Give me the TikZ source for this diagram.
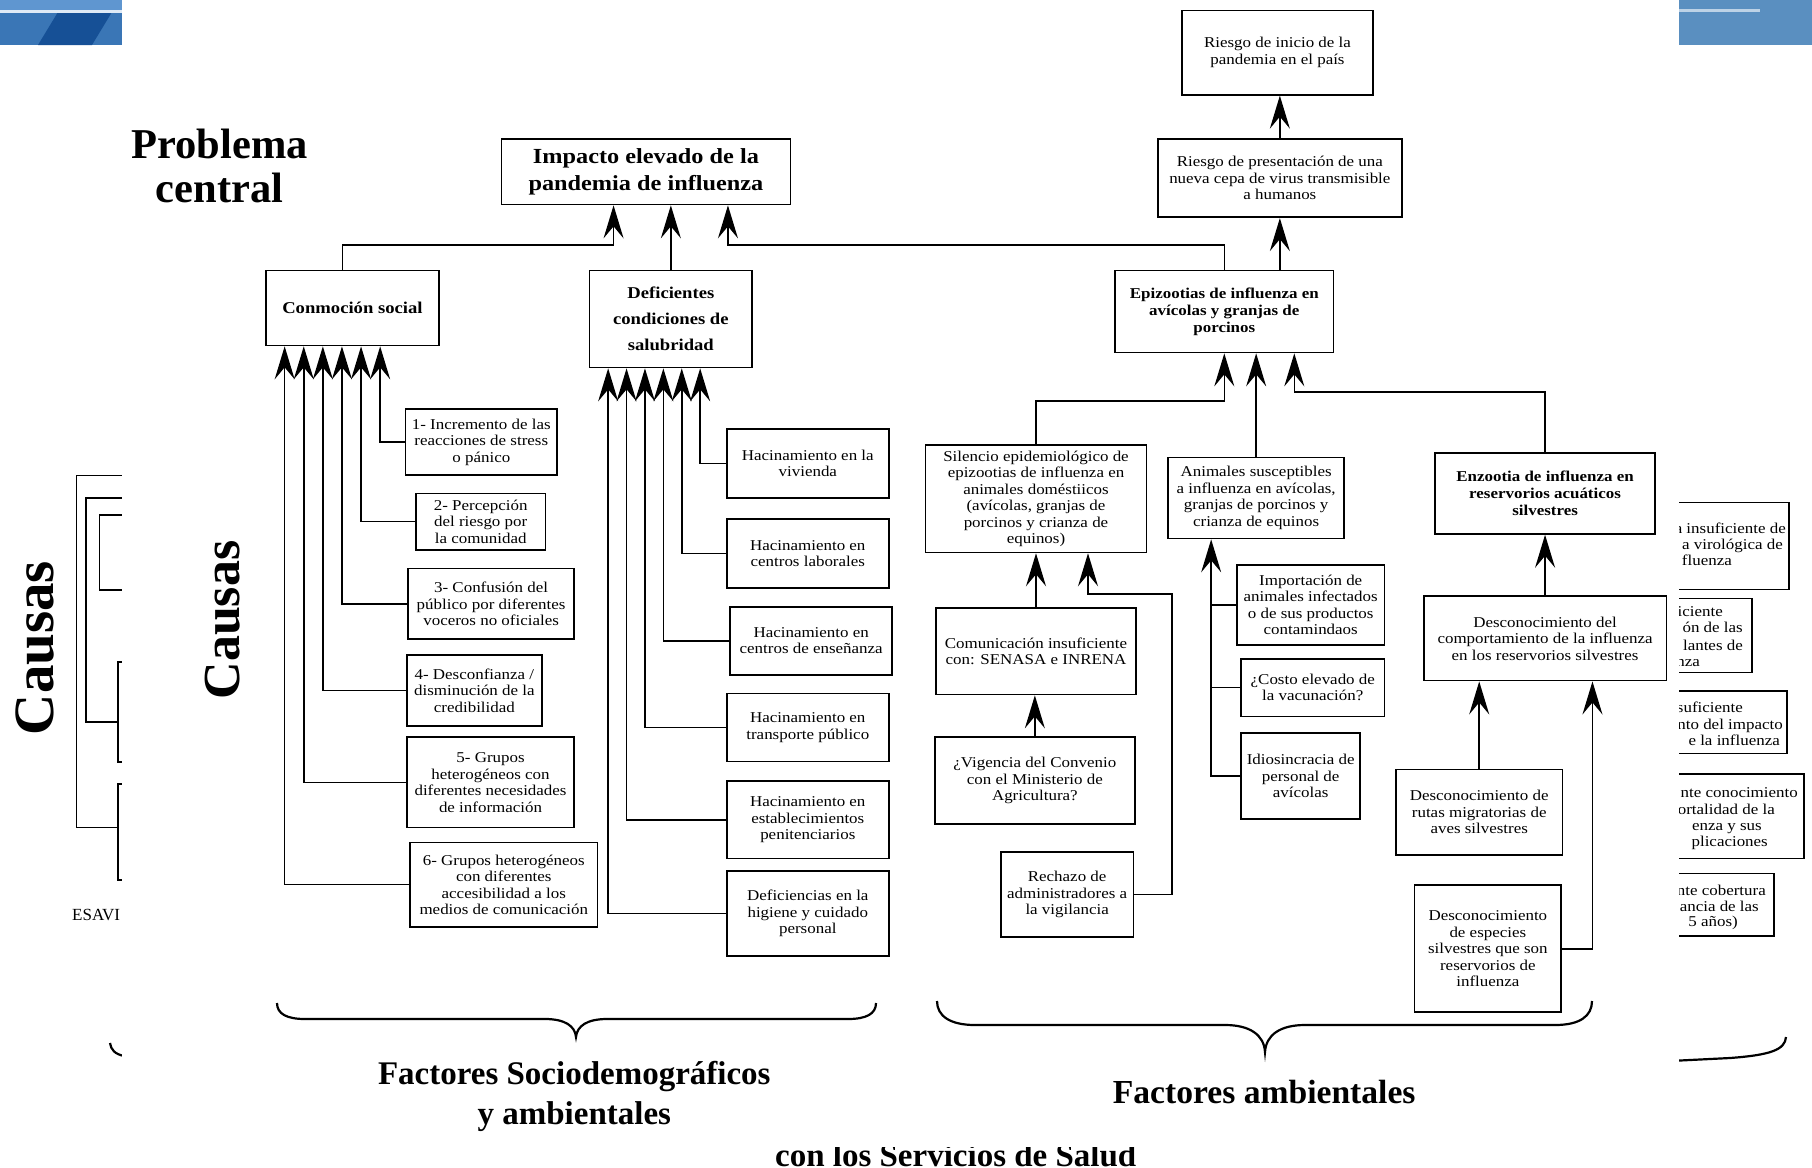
\documentclass[tikz,border=0pt]{standalone}
\usepackage{fontspec}
\setmainfont{Liberation Serif}
\newfontfamily\bxf[FakeStretch=1.13]{Liberation Serif}
\usetikzlibrary{arrows.meta,calc}
\definecolor{blA}{RGB}{58,118,182}
\definecolor{blD}{RGB}{22,80,150}
\definecolor{blL}{RGB}{95,150,208}
\definecolor{blR}{RGB}{90,143,192}
\tikzset{
  bx/.style={draw, line width=1.7pt, align=center, inner sep=1pt, font=\bxf\fontsize{15}{16.5}\selectfont},
  bxb/.style={bx, font=\bxf\bfseries\fontsize{15}{17}\selectfont},
  hd/.style={bx, font=\bxf\bfseries\fontsize{16.5}{26}\selectfont},
  ttl/.style={bx, font=\bxf\bfseries\fontsize{21.5}{27}\selectfont},
  ln/.style={line width=1.5pt},
  arr/.style={ln, -{Stealth[length=33pt,width=20pt,inset=12pt]}},
  bg/.style={line width=1.4pt},
  brace/.style={line width=2.2pt},
  ptxt/.style={anchor=base east, inner sep=0pt, font=\bxf\fontsize{15}{16.5}\selectfont},
}
\newcommand{\bxn}[7][bx]{\node[#1, minimum width={(#4)-(#2)}, minimum height={(#5)-(#3)}] (#6) at ({((#2)+(#4))/2},{((#3)+(#5))/2}) {#7};}
\begin{document}
\begin{tikzpicture}[x=1pt,y=-1pt]
\useasboundingbox (0,0) rectangle (1812,1167);
% ---------- background slide fragments ----------
\fill[blA] (0,0) rectangle (122,45);
\fill[blD] (38,45) -- (92,45) -- (112,12) -- (58,12) -- cycle;
\fill[blL] (0,0) rectangle (122,10);
\fill[white!80!blL] (0,10) rectangle (122,13);
\fill[blR] (1679,0) rectangle (1812,45);
\fill[white!60!blR] (1679,9) rectangle (1760,12);
\node[rotate=90, font=\bfseries\fontsize{57}{57}\selectfont] (causasbg) at (35,648) {Causas};
\draw[bg] (122,475.7) -| (76.7,827.7) -- (118,827.7);
\draw[bg] (122,498) -| (86,722) -- (118,722);
\draw[bg] (122,515) -| (99.3,590) -- (122,590);
\draw[bg] (122,662) -| (118,762) -- (122,762);
\draw[bg] (122,784) -| (118,880) -- (122,880);
\node[anchor=base west, inner sep=0pt, font=\fontsize{17}{17}\selectfont] (esav) at (72,920) {ESAVI};
\draw[brace] (110,1043) .. controls (111,1050) and (115,1054) .. (124,1056);
\draw[brace] (1670,1061) -- (1730,1058) .. controls (1770,1055) and (1785,1050) .. (1786,1037);
\node[anchor=base, font=\bfseries\fontsize{33}{40}\selectfont] (css) at (955.7,1166) {con los Servicios de Salud};
% right partial boxes
\draw[bg] (1660,502.7) rectangle (1789,589.4);
\draw[bg] (1660,598.6) rectangle (1752,672.6);
\draw[bg] (1660,691) rectangle (1787,753.4);
\draw[bg] (1660,774) rectangle (1804,858.6);
\draw[bg] (1660,873.6) rectangle (1774,936);
\node[ptxt] (r1a) at (1786,533) {a insuficiente de};
\node[ptxt] (r1b) at (1783,549) {a virológica de};
\node[ptxt] (r1c) at (1732,565.5) {fluenza};
\node[ptxt] (r2a) at (1723,616) {iciente};
\node[ptxt] (r2b) at (1743,632.5) {ón de las};
\node[ptxt] (r2c) at (1743,650) {lantes de};
\node[ptxt] (r2d) at (1700,666) {enza};
\node[ptxt] (r3a) at (1743,712) {suficiente};
\node[ptxt] (r3b) at (1783,729.5) {nto del impacto};
\node[ptxt] (r3c) at (1780,745.5) {e la influenza};
\node[ptxt] (r4a) at (1798,797.5) {nte conocimiento};
\node[ptxt] (r4b) at (1775,814) {ortalidad de la};
\node[ptxt] (r4c) at (1762,830) {enza y sus};
\node[ptxt] (r4d) at (1768,846) {plicaciones};
\node[ptxt] (r5a) at (1766,895) {nte cobertura};
\node[ptxt] (r5b) at (1759,911) {ancia de las};
\node[ptxt] (r5c) at (1738,926) {5 años)};
% ---------- overlay ----------
\fill[white] (122,0) rectangle (1679,1147);
% ---------- titles ----------
\node[font=\bfseries\fontsize{42.5}{44}\selectfont, align=center] (prob) at (219.6,166.4) {Problema\\central};
\node[rotate=90, font=\bfseries\fontsize{52}{52}\selectfont] (causas) at (223,620) {Causas};
% ---------- boxes ----------
\bxn[ttl]{501.5}{138.7}{790.4}{204.5}{imp}{Impacto elevado de la\\pandemia de influenza}
\bxn[hd]{265.8}{270.4}{439.1}{345.5}{cs}{Conmoción social}
\bxn[hd]{589.4}{270.4}{752.3}{367.5}{def}{Deficientes\\condiciones de\\salubridad}
\bxn{1182.2}{10.4}{1372.8}{94.8}{ri}{Riesgo de inicio de la\\pandemia en el país}
\bxn{1157.9}{138.7}{1401.8}{217.3}{rp}{Riesgo de presentación de una\\nueva cepa de virus transmisible\\a humanos}
\bxn[bxb]{1115}{270.4}{1333.6}{352.5}{epz}{Epizootias de influenza en\\avícolas y granjas de\\porcinos}
\bxn{925.6}{444.9}{1146.4}{552.4}{sil}{Silencio epidemiológico de\\epizootias de influenza en\\animales doméstiicos\\(avícolas, granjas de\\porcinos y crianza de\\equinos)}
\bxn{1168.3}{457.6}{1344}{538.5}{ani}{Animales susceptibles\\a influenza en avícolas,\\granjas de porcinos y\\crianza de equinos}
\bxn[bxb]{1435.3}{453}{1654.8}{533.9}{enz}{Enzootia de influenza en\\reservorios acuáticos\\silvestres}
\bxn{936}{607.8}{1136}{694.5}{com}{Comunicación insuficiente\\con: SENASA e INRENA}
\bxn{934.9}{737.3}{1134.8}{824}{vig}{¿Vigencia del Convenio\\con el Ministerio de\\Agricultura?}
\bxn{1000.7}{851.7}{1133.6}{937.2}{rech}{Rechazo de\\administradores a\\la vigilancia}
\bxn{1237}{565}{1384.4}{644.8}{impo}{Importación de\\animales infectados\\o de sus productos\\contamindaos}
\bxn{1241.2}{658.7}{1384.4}{716.5}{cos}{¿Costo elevado de\\la vacunación?}
\bxn{1241.2}{732.7}{1360.1}{819.3}{idi}{Idiosincracia de\\personal de\\avícolas}
\bxn{1423.7}{596.3}{1666.4}{680.6}{dcomp}{Desconocimiento del\\comportamiento de la influenza\\en los reservorios silvestres}
\bxn{1396}{769.6}{1562.4}{855.1}{rut}{Desconocimiento de\\rutas migratorias de\\aves silvestres}
\bxn{1414.5}{885.2}{1561.2}{1012.3}{esp}{Desconocimiento\\de especies\\silvestres que son\\reservorios de\\influenza}
\bxn{405.6}{409.1}{557}{475}{b1}{1- Incremento de las\\reacciones de stress\\o pánico}
\bxn{416}{493.4}{545.4}{550}{b2}{2- Percepción\\del riesgo por\\la comunidad}
\bxn{407.9}{568.6}{574.3}{639}{b3}{3- Confusión del\\público por diferentes\\voceros no oficiales}
\bxn{406.8}{655.2}{542}{725.7}{b4}{4- Desconfianza /\\disminución de la\\credibilidad}
\bxn{406.8}{737.3}{574.3}{827.4}{b5}{5- Grupos\\heterogéneos con\\diferentes necesidades\\de información}
\bxn{410.2}{842.4}{597.4}{926.8}{b6}{6- Grupos heterogéneos\\con diferentes\\accesibilidad a los\\medios de comunicación}
\bxn{726.9}{428.7}{888.7}{498.1}{h1}{Hacinamiento en la\\vivienda}
\bxn{726.9}{518.9}{888.7}{588.2}{h2}{Hacinamiento en\\centros laborales}
\bxn{730.3}{606.7}{892.1}{674.9}{h3}{Hacinamiento en\\centros de enseñanza}
\bxn{726.9}{693.4}{888.7}{761.5}{h4}{Hacinamiento en\\transporte público}
\bxn{726.9}{781.2}{888.7}{858.6}{h5}{Hacinamiento en\\establecimientos\\penitenciarios}
\bxn{726.9}{871.3}{888.7}{955.7}{h6}{Deficiencias en la\\higiene y  cuidado\\personal}
% ---------- connectors ----------
\draw[arr] ([xshift=-10pt]cs.north) -- ++(0,-24.4) -| ([xshift=-32.4pt]imp.south);
\draw[arr] (def.north) -- (def.north |- imp.south);
\draw[arr] (epz.north) -- ++(0,-24.4) -| ([xshift=82pt]imp.south);
\draw[arr] (rp.south |- epz.north) -- (rp.south);
\draw[arr] (rp.north) -- (rp.north |- ri.south);
\draw[arr] (b6.west) -| ([xshift=19.7pt]cs.south west);
\draw[arr] (b5.west) -| ([xshift=38.8pt]cs.south west);
\draw[arr] (b4.west) -| ([xshift=57.9pt]cs.south west);
\draw[arr] (b3.west) -| ([xshift=77pt]cs.south west);
\draw[arr] (b2.west) -| ([xshift=96.1pt]cs.south west);
\draw[arr] (b1.west) -| ([xshift=115.2pt]cs.south west);
\draw[arr] (h6.west) -| ([xshift=19.6pt]def.south west);
\draw[arr] (h5.west) -| ([xshift=38pt]def.south west);
\draw[arr] (h4.west) -| ([xshift=56.4pt]def.south west);
\draw[arr] (h3.west) -| ([xshift=74.8pt]def.south west);
\draw[arr] (h2.west) -| ([xshift=93.2pt]def.south west);
\draw[arr] (h1.west) -| ([xshift=111.6pt]def.south west);
\draw[arr] (sil.north) -- ++(0,-42.9) -| (epz.south);
\draw[arr] (ani.north) -- (ani.north |- epz.south);
\draw[arr] (enz.north) -- ++(0,-60) -| ([xshift=70pt]epz.south);
\draw[arr] (com.north) -- (com.north |- sil.south);
\draw[arr] (vig.north) -- (vig.north |- com.south);
\coordinate (rj) at (1171.8,594);
\draw[arr] (rech.east) -| (rj) -| ([xshift=52pt]sil.south);
\coordinate (av) at ([xshift=-45pt]ani.south);
\draw[arr] (idi.west) -| (av);
\draw[ln] (impo.west) -- (impo.west -| av);
\draw[ln] (cos.west) -- (cos.west -| av);
\draw[arr] (dcomp.north) -- (dcomp.north |- enz.south);
\draw[arr] (rut.north) -- (rut.north |- dcomp.south);
\draw[arr] (esp.east) -| ([xshift=47.4pt]dcomp.south);
% ---------- braces and labels ----------
\draw[brace] (277,1003) .. controls (277,1014) and (287,1019) .. (305,1019) -- (545,1019) .. controls (565,1019) and (575,1026) .. (576,1037) .. controls (577,1026) and (587,1019) .. (607,1019) -- (848,1019) .. controls (866,1019) and (876,1014) .. (876,1003);
\draw[brace] (937,1001) .. controls (937,1016) and (950,1025) .. (975,1025) -- (1225,1025) .. controls (1250,1025) and (1264,1035) .. (1265,1052) .. controls (1266,1035) and (1280,1025) .. (1305,1025) -- (1555,1025) .. controls (1580,1025) and (1592,1016) .. (1592,1001);
\node[font=\bfseries\fontsize{33}{40}\selectfont, align=center] (fsd) at (574.3,1096) {Factores Sociodemográficos\\y ambientales};
\node[font=\bfseries\fontsize{33.6}{40}\selectfont] (fam) at (1264.2,1092) {Factores ambientales};
\end{tikzpicture}
\end{document}
